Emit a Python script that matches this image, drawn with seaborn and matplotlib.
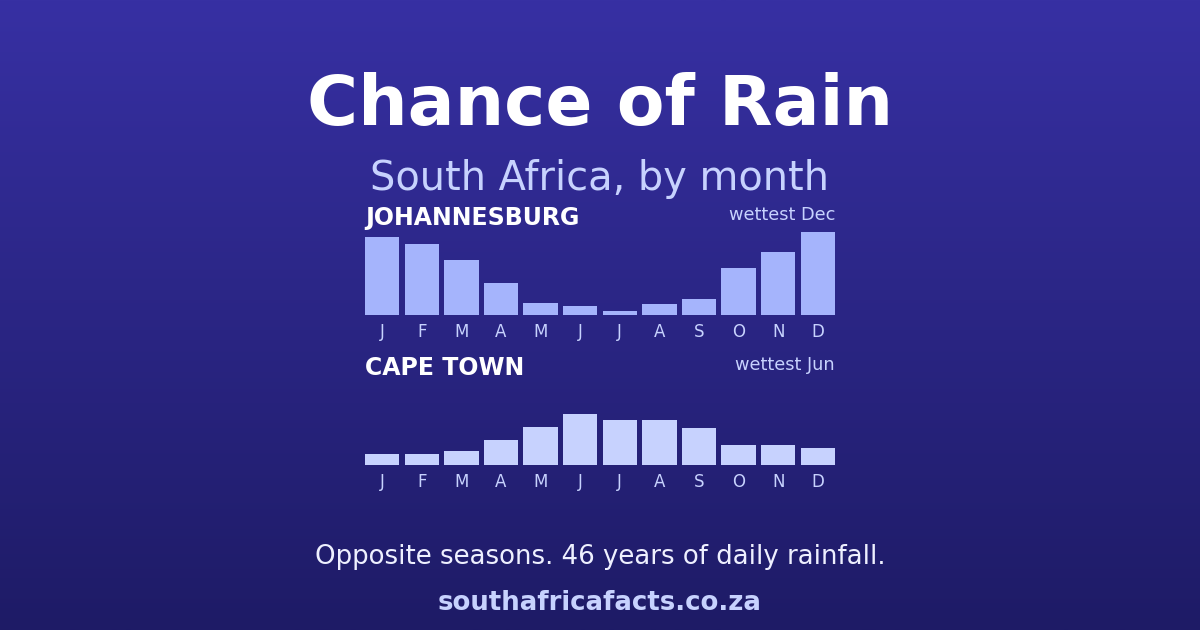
import numpy as np
import pandas as pd
import matplotlib
matplotlib.use("Agg")
import matplotlib.pyplot as plt
from matplotlib.colors import LinearSegmentedColormap
import seaborn as sns

# data (chance of rain per month, %)
months = ['J', 'F', 'M', 'A', 'M', 'J', 'J', 'A', 'S', 'O', 'N', 'D']
jhb_rain = [47, 43, 33, 19, 7.5, 5.5, 2.5, 6.5, 9.5, 28.5, 38, 50]
cpt_rain = [6.5, 6.5, 8.5, 15, 23, 31, 27, 27, 22, 12, 12, 10]

W, H = 1200, 630
TOP_BG = '#3730a3'
BOT_BG = '#1e1b66'
LAVENDER = '#c7d2fe'

sns.set_theme(style='white')
plt.rcParams['font.family'] = ['DejaVu Sans']

fig = plt.figure(figsize=(12, 6.3), dpi=100)

# background gradient
bg = fig.add_axes([0, 0, 1, 1])
bg.imshow(np.linspace(0, 1, 256).reshape(-1, 1), aspect='auto',
          cmap=LinearSegmentedColormap.from_list('bg', [TOP_BG, BOT_BG]),
          extent=[0, 1, 0, 1])
bg.set_axis_off()


def px(y):
    return 1 - y / H


fig.text(0.5, px(125), 'Chance of Rain', ha='center', va='baseline',
         fontsize=50, fontweight='bold', color='white')
fig.text(0.5, px(190), 'South Africa, by month', ha='center', va='baseline',
         fontsize=28.7, color=LAVENDER)


def rain_panel(baseline, values, color, city, note):
    ax = fig.add_axes([365 / W, px(baseline), 470 / W, 83 / H])
    df = pd.DataFrame({'pos': range(12), 'rain': values})
    sns.barplot(data=df, x='pos', y='rain', color=color, width=0.87,
                saturation=1, linewidth=0, ax=ax)
    ax.set_ylim(0, 50)
    ax.set_xlim(-0.435, 11.435)
    ax.patch.set_alpha(0)
    sns.despine(ax=ax, left=True, bottom=True)
    ax.set_yticks([])
    ax.set_xticks(range(12))
    ax.set_xticklabels(months, color=LAVENDER, fontsize=12)
    ax.tick_params(axis='x', length=0, pad=5.5)
    ax.set_xlabel('')
    ax.set_ylabel('')
    fig.text(365 / W, px(baseline - 90), city, ha='left', va='baseline',
             fontsize=17, fontweight='bold', color='white')
    fig.text(835 / W, px(baseline - 94.5), note, ha='right', va='baseline',
             fontsize=12.8, color=LAVENDER)


rain_panel(315, jhb_rain, '#a5b4fc', 'JOHANNESBURG', 'wettest Dec')
rain_panel(465, cpt_rain, '#c7d2fe', 'CAPE TOWN', 'wettest Jun')

fig.text(0.5, px(564), 'Opposite seasons. 46 years of daily rainfall.',
         ha='center', va='baseline', fontsize=18.7, color='#eef0ff')
fig.text(0.5, px(610), 'southafricafacts.co.za', ha='center', va='baseline',
         fontsize=18.7, fontweight='bold', color=LAVENDER)

fig.savefig('out.png', dpi=100)
